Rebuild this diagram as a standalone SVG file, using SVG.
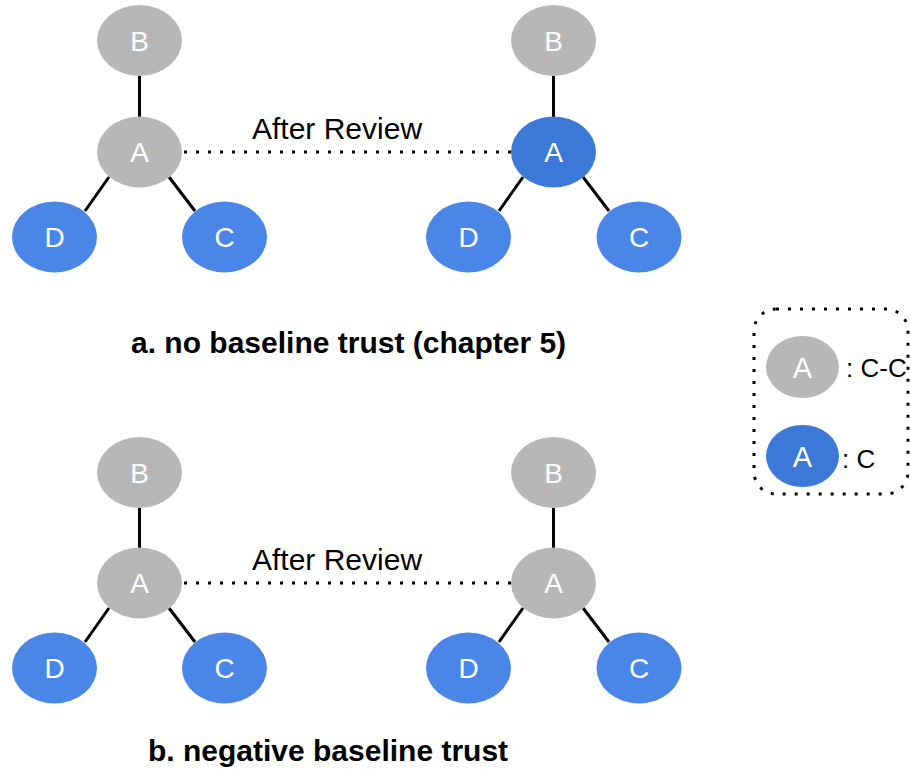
<svg xmlns="http://www.w3.org/2000/svg" width="911" height="769" viewBox="0 0 911 769">
  <style>
    .gray { fill: #b7b7b7; }
    .blue { fill: #4a86e8; }
    .dark { fill: #3c78d8; }
    .lbl { font-family: "Liberation Sans", Arial, sans-serif; font-size: 28px; fill: #ffffff; text-anchor: middle; }
    .big { font-size: 29px; }
    .txt { font-family: "Liberation Sans", Arial, sans-serif; font-size: 30px; fill: #000000; }
    .key { font-family: "Liberation Sans", Arial, sans-serif; font-size: 26px; fill: #000000; }
    .title { font-family: "Liberation Sans", Arial, sans-serif; font-size: 30px; font-weight: bold; fill: #000000; }
    .edge { stroke: #000000; stroke-width: 3; fill: none; }
    .dot { stroke: #000000; stroke-width: 3; fill: none; stroke-dasharray: 3 9; }
  </style>
  <rect width="911" height="769" fill="#ffffff"/>

  <!-- connectors -->
  <g id="connectors">
    <line class="edge" x1="139.5" y1="76" x2="139.5" y2="117"/>
    <line class="edge" x1="109" y1="177" x2="85" y2="211"/>
    <line class="edge" x1="169" y1="177" x2="195" y2="211"/>
    <line class="dot" x1="184" y1="152" x2="511" y2="152"/>
    <line class="edge" x1="553.5" y1="76" x2="553.5" y2="117"/>
    <line class="edge" x1="523" y1="177" x2="499" y2="211"/>
    <line class="edge" x1="583" y1="177" x2="609" y2="211"/>

    <line class="edge" x1="139.5" y1="508" x2="139.5" y2="548"/>
    <line class="edge" x1="109" y1="608" x2="85" y2="642"/>
    <line class="edge" x1="169" y1="608" x2="195" y2="642"/>
    <line class="dot" x1="184" y1="583" x2="511" y2="583"/>
    <line class="edge" x1="553.5" y1="508" x2="553.5" y2="548"/>
    <line class="edge" x1="523" y1="608" x2="499" y2="642"/>
    <line class="edge" x1="583" y1="608" x2="609" y2="642"/>
  </g>

  <text class="txt" x="252" y="139">After Review</text>
  <text class="txt" x="252" y="570">After Review</text>

  <!-- a: left graph -->
  <g id="a-left-B"><ellipse class="gray" cx="139.5" cy="40.5" rx="42.5" ry="35.5"/><text class="lbl" x="139.5" y="50.5">B</text></g>
  <g id="a-left-A"><ellipse class="gray" cx="139.5" cy="152" rx="42.5" ry="35.5"/><text class="lbl" x="139.5" y="162">A</text></g>
  <g id="a-left-D"><ellipse class="blue" cx="54.5" cy="237" rx="42.5" ry="35.5"/><text class="lbl" x="54.5" y="247">D</text></g>
  <g id="a-left-C"><ellipse class="blue" cx="224.5" cy="237" rx="42.5" ry="35.5"/><text class="lbl" x="224.5" y="247">C</text></g>

  <!-- a: right graph -->
  <g id="a-right-B"><ellipse class="gray" cx="553.5" cy="40.5" rx="42.5" ry="35.5"/><text class="lbl" x="553.5" y="50.5">B</text></g>
  <g id="a-right-A"><ellipse class="dark" cx="553.5" cy="152" rx="42.5" ry="35.5"/><text class="lbl" x="553.5" y="162">A</text></g>
  <g id="a-right-D"><ellipse class="blue" cx="468.5" cy="237" rx="42.5" ry="35.5"/><text class="lbl" x="468.5" y="247">D</text></g>
  <g id="a-right-C"><ellipse class="blue" cx="639" cy="237" rx="42.5" ry="35.5"/><text class="lbl" x="639" y="247">C</text></g>

  <text class="title" x="131" y="353">a. no baseline trust (chapter 5)</text>

  <!-- b: left graph -->
  <g id="b-left-B"><ellipse class="gray" cx="139.5" cy="472.5" rx="42.5" ry="35.5"/><text class="lbl" x="139.5" y="482.5">B</text></g>
  <g id="b-left-A"><ellipse class="gray" cx="139.5" cy="583" rx="42.5" ry="35.5"/><text class="lbl" x="139.5" y="593">A</text></g>
  <g id="b-left-D"><ellipse class="blue" cx="54.5" cy="668" rx="42.5" ry="35.5"/><text class="lbl" x="54.5" y="678">D</text></g>
  <g id="b-left-C"><ellipse class="blue" cx="224.5" cy="668" rx="42.5" ry="35.5"/><text class="lbl" x="224.5" y="678">C</text></g>

  <!-- b: right graph -->
  <g id="b-right-B"><ellipse class="gray" cx="553.5" cy="472.5" rx="42.5" ry="35.5"/><text class="lbl" x="553.5" y="482.5">B</text></g>
  <g id="b-right-A"><ellipse class="gray" cx="553.5" cy="583" rx="42.5" ry="35.5"/><text class="lbl" x="553.5" y="593">A</text></g>
  <g id="b-right-D"><ellipse class="blue" cx="468.5" cy="668" rx="42.5" ry="35.5"/><text class="lbl" x="468.5" y="678">D</text></g>
  <g id="b-right-C"><ellipse class="blue" cx="639" cy="668" rx="42.5" ry="35.5"/><text class="lbl" x="639" y="678">C</text></g>

  <text class="title" x="148" y="761">b. negative baseline trust</text>

  <!-- legend -->
  <g id="legend">
    <rect x="754" y="309" width="154" height="185" rx="22" ry="22" fill="none" stroke="#000000" stroke-width="3" stroke-dasharray="3 9"/>
    <ellipse class="gray" cx="802.5" cy="367" rx="36.5" ry="31"/>
    <text class="lbl big" x="802.5" y="378">A</text>
    <text class="key" x="846" y="377">: C-C</text>
    <ellipse class="dark" cx="802.5" cy="456" rx="36.5" ry="31"/>
    <text class="lbl big" x="802.5" y="467">A</text>
    <text class="key" x="842" y="467.5">: C</text>
  </g>
</svg>
